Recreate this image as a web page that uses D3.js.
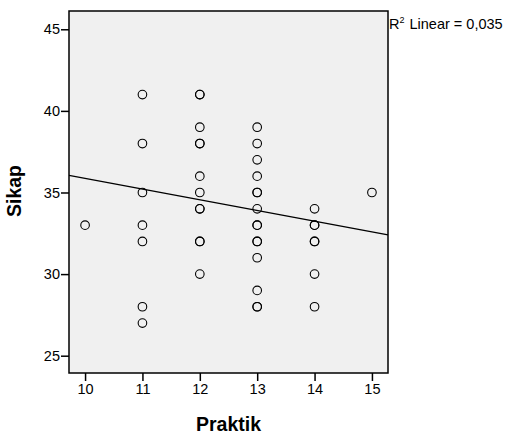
<!DOCTYPE html>
<html>
<head>
<meta charset="utf-8">
<script src="https://cdn.jsdelivr.net/npm/d3@7"></script>
<style>
  body { margin: 0; background: #fff; }
  text { font-family: Arial, "Liberation Sans", sans-serif; }
</style>
</head>
<body>
<div id="chart"></div>
<script>
// Praktik value per point, and Sikap value per point (duplicates drawn twice)
var praktik = [10,
  11, 11, 11, 11, 11, 11, 11,
  12, 12, 12, 12, 12, 12, 12, 12, 12, 12, 12, 12,
  13, 13, 13, 13, 13, 13, 13, 13, 13, 13, 13, 13, 13, 13, 13,
  14, 14, 14, 14, 14, 14, 14,
  15]
var sikap = [33,
  41, 38, 35, 33, 32, 28, 27,
  41, 41, 39, 38, 38, 36, 35, 34, 34, 32, 32, 30,
  39, 38, 37, 36, 35, 35, 34, 33, 33, 32, 32, 31, 29, 28, 28,
  34, 33, 33, 32, 32, 30, 28,
  35]

var xTicks = [10, 11, 12, 13, 14, 15]
var yTicks = [25, 30, 35, 40, 45]

// fit line
var fitIntercept = 42.43
var fitSlope = -0.656
var fitLabel = "Linear = 0,035"

var width = 507, height = 434
var plotL = 69, plotR = 388, plotT = 11, plotB = 373

var svg = d3.select("#chart").append("svg")
  .attr("width", width)
  .attr("height", height)

var x = d3.scaleLinear().domain([9.72, 15.28]).range([plotL, plotR])
var y = d3.scaleLinear().domain([23.94, 46.12]).range([plotB, plotT])

svg.append("rect")
  .attr("x", plotL).attr("y", plotT)
  .attr("width", plotR - plotL).attr("height", plotB - plotT)
  .attr("fill", "#f0f0f0")

// fit line
var x0 = x.domain()[0], x1 = x.domain()[1]
svg.append("line")
  .attr("x1", x(x0)).attr("y1", y(fitIntercept + fitSlope * x0))
  .attr("x2", x(x1)).attr("y2", y(fitIntercept + fitSlope * x1))
  .attr("stroke", "#000")
  .attr("stroke-width", 1.3)

// points
svg.selectAll(".pt")
  .data(praktik)
  .enter().append("circle")
  .attr("class", "pt")
  .attr("cx", function(d) { return x(d) })
  .attr("cy", function(d, i) { return y(sikap[i]) })
  .attr("r", 4.3)
  .attr("fill", "none")
  .attr("stroke", "#000")
  .attr("stroke-width", 1.1)

svg.append("rect")
  .attr("x", plotL).attr("y", plotT)
  .attr("width", plotR - plotL).attr("height", plotB - plotT)
  .attr("fill", "none")
  .attr("stroke", "#000")
  .attr("stroke-width", 1.5)

var xAxis = svg.append("g")
  .attr("transform", "translate(0," + plotB + ")")
  .call(d3.axisBottom(x).tickValues(xTicks).tickSize(8).tickPadding(3).tickFormat(d3.format("d")))
xAxis.select(".domain").remove()

var yAxis = svg.append("g")
  .attr("transform", "translate(" + plotL + ",0)")
  .call(d3.axisLeft(y).tickValues(yTicks).tickSize(8).tickPadding(1).tickFormat(d3.format("d")))
yAxis.select(".domain").remove()

svg.selectAll(".tick line").attr("stroke", "#000").attr("stroke-width", 1.5)
svg.selectAll(".tick text")
  .attr("fill", "#000")
  .style("font-size", "14.5px")
  .style("font-family", "Arial, 'Liberation Sans', sans-serif")

// axis titles
svg.append("text")
  .attr("x", (plotL + plotR) / 2)
  .attr("y", 431)
  .attr("text-anchor", "middle")
  .style("font-size", "19.5px")
  .style("font-weight", "bold")
  .text("Praktik")

svg.append("text")
  .attr("transform", "translate(21," + 191 + ") rotate(-90)")
  .attr("text-anchor", "middle")
  .style("font-size", "19.5px")
  .style("font-weight", "bold")
  .text("Sikap")

// R squared label
var lab = svg.append("text")
  .attr("x", 389)
  .attr("y", 29)
  .style("font-size", "14.5px")
lab.append("tspan").text("R")
lab.append("tspan").attr("dy", -6).style("font-size", "9px").text("2")
lab.append("tspan").attr("dy", 6).attr("dx", 5).text(fitLabel)
</script>
</body>
</html>
